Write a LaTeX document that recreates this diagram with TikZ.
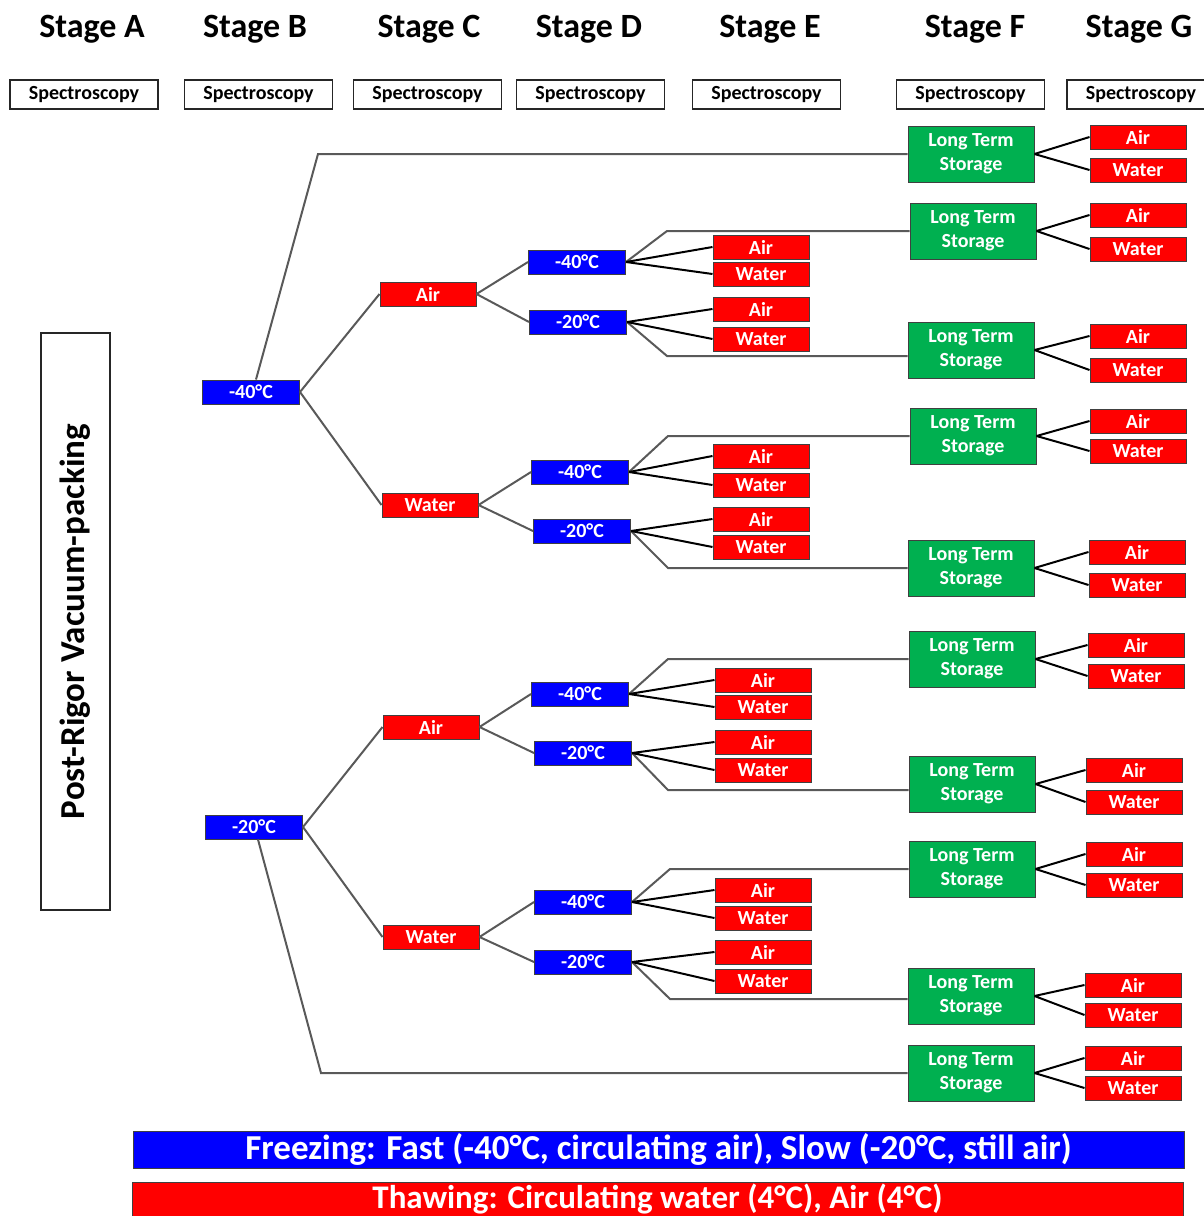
\documentclass[tikz,border=0pt]{standalone}
\usepackage{fontspec}
\setmainfont{Carlito}
\definecolor{frzblue}{RGB}{0,0,255}
\definecolor{thwred}{RGB}{255,0,0}
\definecolor{ltsgreen}{RGB}{0,176,80}
\begin{document}
\begin{tikzpicture}[x=1pt, y=-1pt,
    every node/.style={inner sep=0pt, font=\bfseries},
    stagelbl/.style={font=\fontsize{34}{34}\selectfont\bfseries},
    specbox/.style={draw=black!85, line width=1.2pt, minimum width=148, minimum height=29,
                    font=\fontsize{20}{20}\selectfont\bfseries},
    tempbox/.style={draw=black!75, line width=1pt, fill=frzblue, text=white,
                    minimum width=97, minimum height=24, font=\fontsize{20}{20}\selectfont\bfseries},
    thawbox/.style={tempbox, fill=thwred, minimum width=96},
    storebox/.style={draw=black!75, line width=1pt, fill=ltsgreen, text=white, align=center,
                     minimum width=126, minimum height=56, font=\fontsize{20}{24}\selectfont\bfseries},
    branch/.style={draw=black!65, line width=2pt},
    leaf/.style={draw=black, line width=2pt}]
      \useasboundingbox (0, 0) rectangle (1203, 1216);
      \path (92, 29) node [stagelbl] (stA) {Stage A}
            (255, 29) node [stagelbl] (stB) {Stage B}
            (429, 29) node [stagelbl] (stC) {Stage C}
            (589, 29) node [stagelbl] (stD) {Stage D}
            (770, 29) node [stagelbl] (stE) {Stage E}
            (975, 29) node [stagelbl] (stF) {Stage F}
            (1139, 29) node [stagelbl] (stG) {Stage G};
      \path (84, 94.5) node [specbox] (spA) {Spectroscopy}
            (258.5, 94.5) node [specbox] (spB) {Spectroscopy}
            (427.5, 94.5) node [specbox] (spC) {Spectroscopy}
            (590.5, 94.5) node [specbox] (spD) {Spectroscopy}
            (766.5, 94.5) node [specbox] (spE) {Spectroscopy}
            (970.5, 94.5) node [specbox] (spF) {Spectroscopy}
            (1141, 94.5) node [specbox] (spG) {Spectroscopy};
      \node [draw=black!85, line width=1.2pt, rotate=90, minimum width=577, minimum height=69,
             font=\fontsize{35}{35}\selectfont\bfseries] (vac) at (75.5, 621.5) {Post-Rigor Vacuum-packing};
      \path (251, 392) node [tempbox] (fa) {-40°C}
            (254, 827) node [tempbox] (fb) {-20°C};
      \path (428, 294) node [thawbox] (faA) {Air}
            (430, 505) node [thawbox] (faW) {Water}
            (431, 727) node [thawbox] (fbA) {Air}
            (431, 937) node [thawbox] (fbW) {Water};
      \path (577, 262) node [tempbox] (g1f) {-40°C}
            (578, 322) node [tempbox] (g1s) {-20°C}
            (580, 472) node [tempbox] (g2f) {-40°C}
            (582, 531) node [tempbox] (g2s) {-20°C}
            (580, 694) node [tempbox] (g3f) {-40°C}
            (583, 753) node [tempbox] (g3s) {-20°C}
            (583, 902) node [tempbox] (g4f) {-40°C}
            (583, 962) node [tempbox] (g4s) {-20°C};
      \path (761, 247) node [thawbox] (g1fa) {Air}   (761, 274) node [thawbox] (g1fw) {Water}
            (761, 309) node [thawbox] (g1sa) {Air}   (761, 339) node [thawbox] (g1sw) {Water}
            (761, 456) node [thawbox] (g2fa) {Air}   (761, 485) node [thawbox] (g2fw) {Water}
            (761, 519) node [thawbox] (g2sa) {Air}   (761, 547) node [thawbox] (g2sw) {Water}
            (763, 680) node [thawbox] (g3fa) {Air}   (763, 707) node [thawbox] (g3fw) {Water}
            (763, 742) node [thawbox] (g3sa) {Air}   (763, 770) node [thawbox] (g3sw) {Water}
            (763, 890) node [thawbox] (g4fa) {Air}   (763, 918) node [thawbox] (g4fw) {Water}
            (763, 952) node [thawbox] (g4sa) {Air}   (763, 981) node [thawbox] (g4sw) {Water};
      \path (971, 154) node [storebox] (lts1) {Long Term\\Storage}
            (973, 231) node [storebox] (lts2) {Long Term\\Storage}
            (971, 350) node [storebox] (lts3) {Long Term\\Storage}
            (973, 436) node [storebox] (lts4) {Long Term\\Storage}
            (971, 568) node [storebox] (lts5) {Long Term\\Storage}
            (972, 659) node [storebox] (lts6) {Long Term\\Storage}
            (972, 784) node [storebox] (lts7) {Long Term\\Storage}
            (972, 869) node [storebox] (lts8) {Long Term\\Storage}
            (971, 996) node [storebox] (lts9) {Long Term\\Storage}
            (971, 1073) node [storebox] (lts10) {Long Term\\Storage};
      \path (1138, 137) node [thawbox] (ga1) {Air}    (1138, 170) node [thawbox] (gw1) {Water}
            (1138, 215) node [thawbox] (ga2) {Air}    (1138, 249) node [thawbox] (gw2) {Water}
            (1138, 336) node [thawbox] (ga3) {Air}    (1138, 370) node [thawbox] (gw3) {Water}
            (1138, 421) node [thawbox] (ga4) {Air}    (1138, 451) node [thawbox] (gw4) {Water}
            (1137, 552) node [thawbox] (ga5) {Air}    (1137, 585) node [thawbox] (gw5) {Water}
            (1136, 645) node [thawbox] (ga6) {Air}    (1136, 676) node [thawbox] (gw6) {Water}
            (1134, 770) node [thawbox] (ga7) {Air}    (1134, 802) node [thawbox] (gw7) {Water}
            (1134, 854) node [thawbox] (ga8) {Air}    (1134, 885) node [thawbox] (gw8) {Water}
            (1133, 985) node [thawbox] (ga9) {Air}    (1133, 1015) node [thawbox] (gw9) {Water}
            (1133, 1058) node [thawbox] (ga10) {Air}  (1133, 1088) node [thawbox] (gw10) {Water};
      \draw [branch] ([xshift=5pt]fa.north) -- (318, 154) -- (lts1.west)
                     ([xshift=4pt]fb.south) -- (321, 1073) -- (lts10.west)
                     (fa.east) -- (faA.west)  (fa.east) -- (faW.west)
                     (fb.east) -- (fbA.west)  (fb.east) -- (fbW.west)
                     (faA.east) -- (g1f.west)  (faA.east) -- (g1s.west)
                     (faW.east) -- (g2f.west)  (faW.east) -- (g2s.west)
                     (fbA.east) -- (g3f.west)  (fbA.east) -- (g3s.west)
                     (fbW.east) -- (g4f.west)  (fbW.east) -- (g4s.west)
                     (g1f.east) -- (667, 231) -- (lts2.west)
                     (g1s.east) -- (667, 356) -- ([yshift=-6pt]lts3.west)
                     (g2f.east) -- (668, 436) -- (lts4.west)
                     (g2s.east) -- (668, 568) -- (lts5.west)
                     (g3f.east) -- (668, 659) -- (lts6.west)
                     (g3s.east) -- (668, 790) -- ([yshift=-6pt]lts7.west)
                     (g4f.east) -- (670, 869) -- (lts8.west)
                     (g4s.east) -- (670, 999) -- ([yshift=-3pt]lts9.west);
      \draw [leaf] (g1f.east) -- (g1fa.west)  (g1f.east) -- (g1fw.west)
                   (g1s.east) -- (g1sa.west)  (g1s.east) -- (g1sw.west)
                   (g2f.east) -- (g2fa.west)  (g2f.east) -- (g2fw.west)
                   (g2s.east) -- (g2sa.west)  (g2s.east) -- (g2sw.west)
                   (g3f.east) -- (g3fa.west)  (g3f.east) -- (g3fw.west)
                   (g3s.east) -- (g3sa.west)  (g3s.east) -- (g3sw.west)
                   (g4f.east) -- (g4fa.west)  (g4f.east) -- (g4fw.west)
                   (g4s.east) -- (g4sa.west)  (g4s.east) -- (g4sw.west);
      \draw [leaf] (lts1.east) -- (ga1.west)  (lts1.east) -- (gw1.west)
                   (lts2.east) -- (ga2.west)  (lts2.east) -- (gw2.west)
                   (lts3.east) -- (ga3.west)  (lts3.east) -- (gw3.west)
                   (lts4.east) -- (ga4.west)  (lts4.east) -- (gw4.west)
                   (lts5.east) -- (ga5.west)  (lts5.east) -- (gw5.west)
                   (lts6.east) -- (ga6.west)  (lts6.east) -- (gw6.west)
                   (lts7.east) -- (ga7.west)  (lts7.east) -- (gw7.west)
                   (lts8.east) -- (ga8.west)  (lts8.east) -- (gw8.west)
                   (lts9.east) -- (ga9.west)  (lts9.east) -- (gw9.west)
                   (lts10.east) -- (ga10.west)  (lts10.east) -- (gw10.west);
      \path (658.5, 1149.5) node [tempbox, minimum width=1051, minimum height=37,
                                  font=\fontsize{35}{35}\selectfont\bfseries] (frz)
                                  {Freezing: Fast (-40°C, circulating air), Slow (-20°C, still air)}
            (657.5, 1199) node [thawbox, minimum width=1051, minimum height=34,
                                font=\fontsize{33}{33}\selectfont\bfseries] (thw)
                                {Thawing: Circulating water (4°C), Air (4°C)};
\end{tikzpicture}
\end{document}
